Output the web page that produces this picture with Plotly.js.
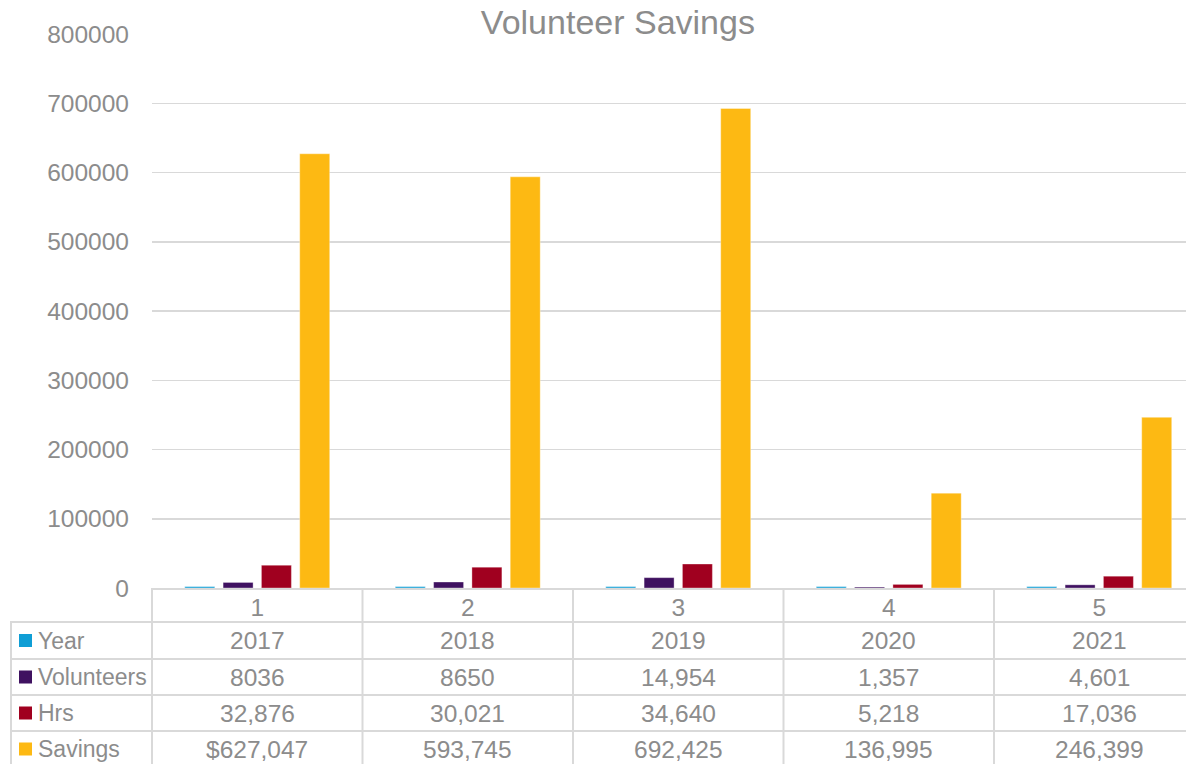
<!DOCTYPE html>
<html>
<head>
<meta charset="utf-8">
<script src="https://cdn.plot.ly/plotly-3.0.1.min.js"></script>
<style>
html,body{margin:0;padding:0;overflow:hidden;background:#fff;}
#chart{width:1186px;height:764px;}
</style>
</head>
<body>
<div id="chart"></div>
<script>
// ---- data ----
const categories = [1, 2, 3, 4, 5];
const seriesNames = ["Year", "Volunteers", "Hrs", "Savings"];
const yearValues = [2017, 2018, 2019, 2020, 2021];
const volunteerValues = [8036, 8650, 14954, 1357, 4601];
const hrsValues = [32876, 30021, 34640, 5218, 17036];
const savingsValues = [627047, 593745, 692425, 136995, 246399];
// table labels as shown in the data table
const yearLabels = ["2017", "2018", "2019", "2020", "2021"];
const volunteerLabels = ["8036", "8650", "14,954", "1,357", "4,601"];
const hrsLabels = ["32,876", "30,021", "34,640", "5,218", "17,036"];
const savingsLabels = ["$627,047", "593,745", "692,425", "136,995", "246,399"];
const yTickVals = [0, 100000, 200000, 300000, 400000, 500000, 600000, 700000, 800000];

// ---- style ----
const colors = ["#0f9ed5", "#3f1160", "#a0001f", "#fdb913"];
const textColor = "#8c8c8c";
const lineColor = "#d9d9d9";
const FONT = "Liberation Sans, Arial, sans-serif";

const W = 1186, H = 764;
const L = 152, T = 34, B = 176;      // plot area: x 152.., y 34..588
const plotW = W - L, plotH = H - T - B;
const catW = 210.5;                   // pixel width of one category
const xMax = 0.5 + plotW / catW;

const allValues = [yearValues, volunteerValues, hrsValues, savingsValues];
const allLabels = [yearLabels, volunteerLabels, hrsLabels, savingsLabels];

const traces = seriesNames.map((n, i) => ({
  type: "bar",
  name: n,
  x: categories,
  y: allValues[i],
  marker: {color: colors[i], line: {color: "rgba(255,255,255,0.35)", width: 1}},
  hoverinfo: "x+y+name"
}));

// pixel helpers for table (outside plot area)
const py = p => -(p - (T + plotH)) / plotH;   // pixel y -> paper y
const px = p => (p - L) / plotW;               // pixel x -> paper x

const rowTops = [622, 659, 695, 731];
const rowBottoms = [659, 695, 731, 767];
const shapes = [];
const annotations = [];

// horizontal table lines
[622, 659, 695, 731].forEach(yy => {
  shapes.push({type: "line", xref: "paper", yref: "paper", x0: px(10), x1: 1, y0: py(yy), y1: py(yy),
    line: {color: lineColor, width: 2}});
});
// left border of legend column
shapes.push({type: "line", xref: "paper", yref: "paper", x0: px(11), x1: px(11), y0: py(622), y1: py(770),
  line: {color: lineColor, width: 2}});
// plot-left border of table
shapes.push({type: "line", xref: "paper", yref: "paper", x0: 0, x1: 0, y0: py(588), y1: py(770),
  line: {color: lineColor, width: 2}});
// column separators between categories
categories.forEach(c => {
  shapes.push({type: "line", xref: "x", yref: "paper", x0: c + 0.5, x1: c + 0.5, y0: py(588), y1: py(770),
    line: {color: lineColor, width: 2}});
});

// legend keys + row labels + values
seriesNames.forEach((n, i) => {
  const c = (rowTops[i] + rowBottoms[i]) / 2;
  shapes.push({type: "rect", xref: "paper", yref: "paper", x0: px(19), x1: px(32), y0: py(c - 6.5), y1: py(c + 6.5),
    fillcolor: colors[i], line: {width: 0}});
  annotations.push({xref: "paper", yref: "paper", x: px(36), y: py(c), xanchor: "left", yanchor: "middle",
    text: n, showarrow: false, font: {family: FONT, size: 23, color: textColor}});
  categories.forEach((cat, j) => {
    annotations.push({xref: "x", yref: "paper", x: cat, y: py(c), xanchor: "center", yanchor: "middle",
      text: allLabels[i][j], showarrow: false, font: {family: FONT, size: 24.5, color: textColor}});
  });
});

const layout = {
  width: W, height: H,
  margin: {l: L, r: 0, t: T, b: B, pad: 0},
  paper_bgcolor: "#fff", plot_bgcolor: "#fff",
  title: {text: "Volunteer Savings", x: 0.521, xref: "container", xanchor: "center",
    y: 1 - 22 / H, yref: "container", yanchor: "middle",
    font: {family: FONT, size: 34, color: textColor}},
  showlegend: false,
  barmode: "group",
  bargap: 0.272,
  bargroupgap: 0.217,
  xaxis: {
    range: [0.5, xMax], tickvals: categories, ticktext: categories.map(String),
    showgrid: false, zeroline: false, showline: true, linecolor: lineColor, linewidth: 2,
    ticks: "", ticklabelstandoff: -3, tickfont: {family: FONT, size: 24.5, color: textColor}, fixedrange: true
  },
  yaxis: {
    range: [0, 800000], tickvals: yTickVals, tickformat: "d",
    showgrid: true, gridcolor: lineColor, gridwidth: 1.5, zeroline: false, showline: false,
    ticks: "", ticklabelstandoff: 22,
    tickfont: {family: FONT, size: 24.5, color: textColor}, fixedrange: true
  },
  shapes: shapes,
  annotations: annotations
};

Plotly.newPlot("chart", traces, layout, {displayModeBar: false, staticPlot: true});
</script>
</body>
</html>
